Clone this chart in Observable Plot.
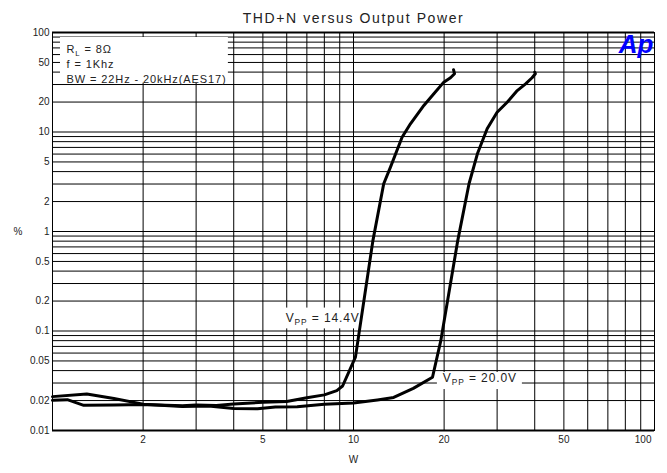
<!DOCTYPE html>
<html><head><meta charset="utf-8">
<script src="https://cdn.jsdelivr.net/npm/d3@7"></script>
<script src="https://cdn.jsdelivr.net/npm/@observablehq/plot@0.6"></script>
<style>
html,body{margin:0;padding:0;background:#fff;}
#chart svg{display:block;}
</style>
</head><body><div id="chart"></div>
<script>
// ---- texts ----
const titleText = "THD+N versus Output Power";
const xLabel = "W";
const yLabel = "%";
const boxNotes = ["R_{L} = 8\u03A9", "f = 1Khz", "BW = 22Hz - 20kHz(AES17)"];
const logoText = "Ap";

// ---- grid & ticks ----
const xGrid = [1,2,3,4,5,6,7,8,9,10,20,30,40,50,60,70,80,90,100];
const yGrid = [0.01,0.02,0.03,0.04,0.05,0.06,0.07,0.08,0.09,
               0.1,0.2,0.3,0.4,0.5,0.6,0.7,0.8,0.9,
               1,2,3,4,5,6,7,8,9,
               10,20,30,40,50,60,70,80,90,100];
const xTicks = [2,5,10,20,50];
const xTickLast = [100];
const yTicks = [0.01,0.02,0.05,0.1,0.2,0.5,1,2,5,10,20,50,100];

// ---- series: Vpp = 14.4 V ----
const w14   = [1.0, 1.12, 1.27, 1.6, 2.0, 2.7, 3.0, 3.5, 4.0, 5.0, 6.0, 7.0, 8.0, 8.8, 9.2, 10.15, 11.6, 12.6, 13.27, 14.5, 15.46, 17.13, 18.49, 19.95, 21.0, 21.66, 21.5];
const thd14 = [0.0201, 0.0204, 0.0179, 0.018, 0.0182, 0.0177, 0.018, 0.0178, 0.0185, 0.0192, 0.0196, 0.0213, 0.0228, 0.0252, 0.028, 0.0546, 0.81, 3.02, 4.43, 8.87, 12.1, 18.5, 24.2, 31.7, 35.1, 38.5, 42.2];
// ---- series: Vpp = 20.0 V ----
const w20   = [1.0, 1.3, 1.6, 2.0, 2.7, 3.3, 4.0, 4.8, 5.5, 6.5, 8.0, 10, 12, 13.6, 15.8, 18.3, 19.5, 22.2, 24.2, 25.8, 27.8, 30, 32.4, 35, 37.3, 39.2, 40.2, 40.0];
const thd20 = [0.0219, 0.0233, 0.021, 0.0184, 0.0174, 0.0176, 0.0166, 0.0165, 0.0172, 0.0173, 0.0184, 0.0189, 0.0203, 0.0215, 0.0265, 0.0343, 0.08, 0.81, 3.02, 6.04, 10.8, 15.8, 19.9, 26.1, 30.5, 35.1, 38.5, 39.9];

// ---- curve annotations ----
const curveLabels = ["V_{PP} = 14.4V", "V_{PP} = 20.0V"];
const curveLabelW = [5.95, 19.8];
const curveLabelY = [0.134, 0.0333];
const curveLabelBoxW1 = [5.7, 19.0];
const curveLabelBoxW2 = [10.35, 36.4];
const curveLabelBoxY1 = [0.105, 0.0258];
const curveLabelBoxY2 = [0.17, 0.0383];
// notes box extent (data units)
const noteBoxW = [1, 3.84];
const noteBoxY = [31, 100];

const s14 = w14.map((w,i)=>({w, thd: thd14[i]}));
const s20 = w20.map((w,i)=>({w, thd: thd20[i]}));
const labelData = curveLabels.map((t,i)=>({t, w: curveLabelW[i], y: curveLabelY[i],
  x1: curveLabelBoxW1[i], x2: curveLabelBoxW2[i], y1: curveLabelBoxY1[i], y2: curveLabelBoxY2[i]}));
const noteBox = [{x1: noteBoxW[0], x2: noteBoxW[1], y1: noteBoxY[0], y2: noteBoxY[1]}];

const font = "'Liberation Sans', Arial, sans-serif";
const txt = "#222";

const svg = Plot.plot({
  width: 667, height: 473,
  marginTop: 32, marginLeft: 52, marginRight: 13, marginBottom: 43,
  style: {fontFamily: font, background: "#fff"},
  x: {type: "log", domain: [1, 100], axis: null},
  y: {type: "log", domain: [0.01, 100], axis: null},
  marks: [
    Plot.ruleX(xGrid, {x: d => d, stroke: "#000", strokeWidth: 1}),
    Plot.ruleY(yGrid, {y: d => d, stroke: "#000", strokeWidth: 1}),
    Plot.rect(noteBox, {x1: "x1", x2: "x2", y1: "y1", y2: "y2", fill: "#fff", insetLeft: 8, insetTop: 5}),
    Plot.rect(labelData, {x1: "x1", x2: "x2", y1: "y1", y2: "y2", fill: "#fff"}),
    Plot.line(s14, {x: "w", y: "thd", stroke: "#000", strokeWidth: 3, curve: "linear"}),
    Plot.line(s20, {x: "w", y: "thd", stroke: "#000", strokeWidth: 3, curve: "linear"}),
    Plot.frame({stroke: "#000", strokeWidth: 1}),
    Plot.ruleY([0.01, 100], {y: d => d, stroke: "#000", strokeWidth: 2}),
    Plot.text(xTicks, {x: d => d, text: d => String(d), frameAnchor: "bottom", dy: 12, fontSize: 10, fill: txt}),
    Plot.text(xTickLast, {x: d => d, text: d => String(d), frameAnchor: "bottom", textAnchor: "end", dx: -3, dy: 12, fontSize: 10, fill: txt}),
    Plot.text(yTicks, {y: d => d, text: d => String(d), frameAnchor: "left", textAnchor: "end", dx: -3, fontSize: 10, fill: txt}),
    Plot.text([titleText], {text: d => d, frameAnchor: "top", dy: -19, fontSize: 14, fill: txt}),
    Plot.text([xLabel], {text: d => d, frameAnchor: "bottom", dy: 32, fontSize: 10, fill: txt}),
    Plot.text([yLabel], {text: d => d, frameAnchor: "left", dx: -39, fontSize: 10, fill: txt}),
    ...boxNotes.map((n, i) => Plot.text([n], {text: d => d, frameAnchor: "top-left", textAnchor: "start", dx: 14, dy: 13 + 15 * i, fontSize: 11, fill: txt})),
    Plot.text(labelData, {x: "w", y: "y", text: "t", textAnchor: "start", fontSize: 12, fill: txt}),
    Plot.text([logoText], {text: d => d, frameAnchor: "top-right", textAnchor: "end", lineAnchor: "top", dx: -1, dy: 2, fontSize: 26, fontWeight: "bold", fontStyle: "italic", fill: "#0000ff"})
  ]
});

// subscripts and letter spacing
const NS = "http://www.w3.org/2000/svg";
const spacing = new Map([[titleText, 1.6], [boxNotes[1], 0.9], [boxNotes[2], 0.9]]);
svg.querySelectorAll("text").forEach(t => {
  const s = t.textContent;
  if (spacing.has(s)) t.setAttribute("letter-spacing", spacing.get(s));
  const m = s.match(/^(.*?)_\{(.*?)\}(.*)$/);
  if (!m) return;
  t.setAttribute("letter-spacing", 0.9);
  while (t.firstChild) t.removeChild(t.firstChild);
  const a = document.createElementNS(NS, "tspan"); a.textContent = m[1];
  const b = document.createElementNS(NS, "tspan"); b.textContent = m[2];
  b.setAttribute("font-size", "70%"); b.setAttribute("dy", "3");
  const c = document.createElementNS(NS, "tspan"); c.textContent = m[3]; c.setAttribute("dy", "-3");
  t.append(a, b, c);
});
document.getElementById("chart").appendChild(svg);
</script>
</body></html>
